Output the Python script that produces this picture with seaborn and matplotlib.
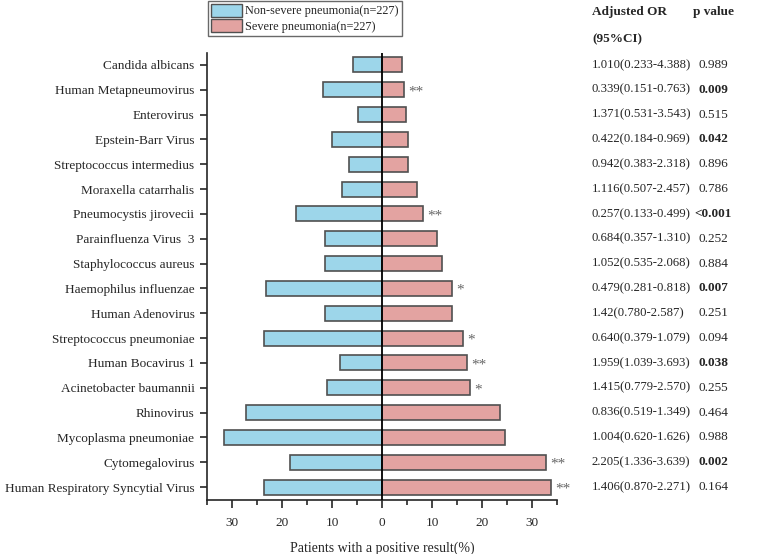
import matplotlib
matplotlib.use("Agg")
import matplotlib.pyplot as plt
import matplotlib.transforms as mtransforms
from matplotlib.patches import Patch
from matplotlib.ticker import MultipleLocator, FuncFormatter
import seaborn as sns
import pandas as pd

# pathogens, top to bottom
pathogens = [
    "Candida albicans", "Human Metapneumovirus", "Enterovirus", "Epstein-Barr Virus",
    "Streptococcus intermedius", "Moraxella catarrhalis", "Pneumocystis jirovecii",
    "Parainfluenza Virus  3", "Staphylococcus aureus", "Haemophilus influenzae",
    "Human Adenovirus", "Streptococcus pneumoniae", "Human Bocavirus 1",
    "Acinetobacter baumannii", "Rhinovirus", "Mycoplasma pneumoniae",
    "Cytomegalovirus", "Human Respiratory Syncytial Virus",
]
# positive rate (%) per group
non_severe = [5.7, 11.8, 4.8, 10.0, 6.5, 7.9, 17.1, 11.3, 11.3, 23.2,
              11.3, 23.6, 8.3, 10.9, 27.1, 31.6, 18.3, 23.6]
severe = [4.1, 4.5, 4.9, 5.3, 5.3, 7.1, 8.3, 11.0, 12.0, 14.1,
          14.1, 16.3, 17.1, 17.6, 23.7, 24.6, 32.9, 33.8]
stars = ["", "**", "", "", "", "", "**", "", "", "*",
         "", "*", "**", "*", "", "", "**", "**"]
adjusted_or = [
    "1.010(0.233-4.388)", "0.339(0.151-0.763)", "1.371(0.531-3.543)", "0.422(0.184-0.969)",
    "0.942(0.383-2.318)", "1.116(0.507-2.457)", "0.257(0.133-0.499)", "0.684(0.357-1.310)",
    "1.052(0.535-2.068)", "0.479(0.281-0.818)", "1.42(0.780-2.587)", "0.640(0.379-1.079)",
    "1.959(1.039-3.693)", "1.415(0.779-2.570)", "0.836(0.519-1.349)", "1.004(0.620-1.626)",
    "2.205(1.336-3.639)", "1.406(0.870-2.271)",
]
p_values = ["0.989", "0.009", "0.515", "0.042", "0.896", "0.786", "<0.001", "0.252",
            "0.884", "0.007", "0.251", "0.094", "0.038", "0.255", "0.464", "0.988",
            "0.002", "0.164"]
p_bold = [False, True, False, True, False, False, True, False,
          False, True, False, False, True, False, False, False, True, False]

sns.set_style("ticks")
plt.rcParams['font.family'] = ['Liberation Serif', 'DejaVu Serif']

blue = "#9dd6ea"
pink = "#e3a3a1"
edge = "#505050"

df = pd.DataFrame({"pathogen": pathogens,
                   "non_severe": [-v for v in non_severe],
                   "severe": severe})

fig = plt.figure(figsize=(7.67, 5.54), dpi=100)
ax = fig.add_axes([207 / 767, 1 - 500 / 554, 350 / 767, 447 / 554])

sns.barplot(data=df, x="non_severe", y="pathogen", orient="h", color=blue,
            edgecolor=edge, linewidth=1.2, width=0.6, saturation=1, ax=ax)
sns.barplot(data=df, x="severe", y="pathogen", orient="h", color=pink,
            edgecolor=edge, linewidth=1.2, width=0.6, saturation=1, ax=ax)

ax.axvline(0, color="black", lw=1.3, zorder=5)

for i, (v, s) in enumerate(zip(severe, stars)):
    if s:
        ax.text(v + 0.8, i + 0.08, s, va="center", ha="left", fontsize=11,
                color="#666666")

ax.set_xlim(-35, 35)
ax.set_ylim(17.52, -0.48)
ax.xaxis.set_major_locator(MultipleLocator(10))
ax.xaxis.set_minor_locator(MultipleLocator(5))
ax.xaxis.set_major_formatter(FuncFormatter(lambda v, p: f"{abs(v):.0f}"))
ax.tick_params(axis="x", which="major", length=6, width=1.2, labelsize=9.5, pad=6)
ax.tick_params(axis="x", which="minor", length=3.5, width=1.2)
ax.tick_params(axis="y", length=5, width=1.2, labelsize=9.5, pad=4)
ax.set_xlabel("Patients with a positive result(%)", fontsize=10, labelpad=9)
ax.set_ylabel("")
for side in ["top", "right"]:
    ax.spines[side].set_visible(False)
for side in ["left", "bottom"]:
    ax.spines[side].set_linewidth(1.2)

# right-hand table
trans = mtransforms.blended_transform_factory(fig.transFigure, ax.transData)
for i, (o, p, b) in enumerate(zip(adjusted_or, p_values, p_bold)):
    ax.text(592 / 767, i, o, transform=trans, va="center", ha="left", fontsize=9.2)
    ax.text(0.93, i, p, transform=trans, va="center", ha="center", fontsize=9.5,
            fontweight="bold" if b else "normal")

fig.text(592 / 767, 1 - 12 / 554, "Adjusted OR", fontsize=9.5, fontweight="bold",
         va="center", ha="left")
fig.text(592 / 767, 1 - 39 / 554, "(95%CI)", fontsize=9.5, fontweight="bold",
         va="center", ha="left")
fig.text(693 / 767, 1 - 12 / 554, "p value", fontsize=9.5, fontweight="bold",
         va="center", ha="left")

handles = [Patch(facecolor=blue, edgecolor=edge, linewidth=1.0),
           Patch(facecolor=pink, edgecolor=edge, linewidth=1.0)]
leg = fig.legend(handles, ["Non-severe pneumonia(n=227)", "Severe pneumonia(n=227)"],
                 loc="upper left", bbox_to_anchor=(208 / 767, 1 - 1 / 554),
                 fontsize=8.8, frameon=True, fancybox=False, handlelength=2.5,
                 handleheight=1.2, handletextpad=0.3, labelspacing=0.15,
                 borderpad=0.25, borderaxespad=0)
leg.get_frame().set_edgecolor("#444444")
leg.get_frame().set_linewidth(1.0)

fig.savefig("out.png", dpi=100)
